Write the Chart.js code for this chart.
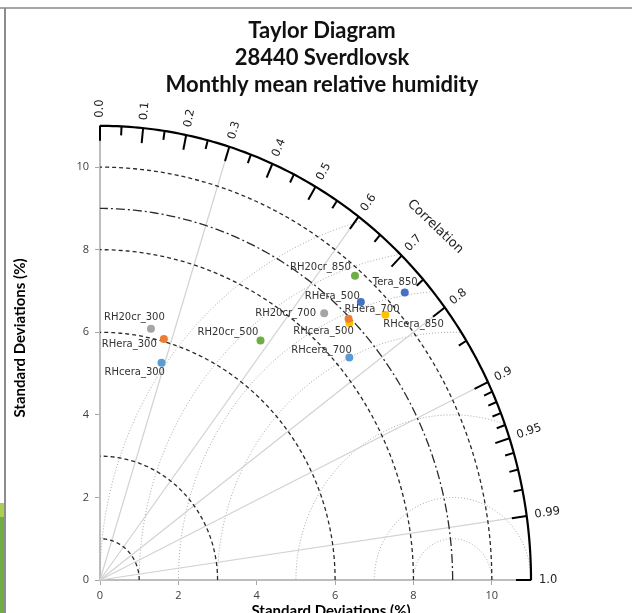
<!DOCTYPE html>
<html lang="en">
<head>
  <meta charset="UTF-8">
  <title>Taylor Diagram - 28440 Sverdlovsk</title>
  <script src="https://cdn.jsdelivr.net/npm/chart.js"></script>
  <style>
    html, body { margin: 0; padding: 0; background: #fff; overflow: hidden; }
    #wrap { position: absolute; left: 0; top: 0; width: 632px; height: 625px; }
    #frameTop { position: absolute; left: 0; top: 7px; width: 632px; height: 2px; background: #a6a6a6; }
    #frameLeft { position: absolute; left: 4px; top: 8px; width: 2px; height: 605px; background: #8c8c8c; }
    #greenBar { position: absolute; left: 0; top: 503px; width: 4px; height: 110px; background: #70ad47; border-top: 14px solid #a9d04f; box-sizing: border-box; }
  </style>
</head>
<body>
  <div id="wrap"><canvas id="taylor" width="632" height="625"></canvas></div>
  <div id="frameTop"></div>
  <div id="frameLeft"></div>
  <div id="greenBar"></div>

  <script>
    // data
    const names = ['RH20cr_300', 'RHera_300', 'RHcera_300', 'RH20cr_500', 'RHera_500', 'RHcera_500',
                   'RH20cr_700', 'RHera_700', 'RHcera_700', 'RH20cr_850', 'Tera_850', 'RHcera_850'];
    const stdDev      = [6.22, 6.06, 5.49, 7.10, 9.47, 8.90, 8.63, 8.96, 8.34, 9.83, 10.44, 9.71];
    const correlation = [0.209, 0.269, 0.286, 0.577, 0.703, 0.715, 0.663, 0.708, 0.763, 0.662, 0.745, 0.750];

    // diagram grid
    const maxStd = 11;
    const refStd = 9;
    const stdArcs = [1, 3, 6, 8, 10];
    const rmsArcs = [1, 2, 4, 6, 7, 8, 9];
    const corrLines = [0.3, 0.6, 0.8, 0.9, 0.99];
    const corrMajor = [0, 0.1, 0.2, 0.3, 0.4, 0.5, 0.6, 0.7, 0.8, 0.9, 0.95, 0.99, 1.0];
    const corrMajorText = ['0.0', '0.1', '0.2', '0.3', '0.4', '0.5', '0.6', '0.7', '0.8', '0.9', '0.95', '0.99', '1.0'];
    const corrMinor = [0.05, 0.15, 0.25, 0.35, 0.45, 0.55, 0.65, 0.75, 0.85, 0.91, 0.92, 0.93, 0.94, 0.96, 0.97, 0.98];
    const axisTicks = [0, 2, 4, 6, 8, 10];
    const axisTitle = 'Standard Deviations (%)';

    const pointColors = ['#a5a5a5', '#ed7d31', '#5b9bd5', '#70ad47', '#4472c4', '#ffc000',
                         '#a5a5a5', '#ed7d31', '#5b9bd5', '#70ad47', '#4472c4', '#ffc000'];
    // label placement relative to each point (px)
    const labelShift = [[-47, -11], [-62, 5], [-57, 10], [-63, -8], [-56, -6], [-56, 8],
                        [-69, 0], [-4, -9], [-58, -7], [-65, -8], [-32, -10], [-2, 10]];

    const points = stdDev.map((s, i) => ({
      x: s * correlation[i],
      y: s * Math.sqrt(1 - correlation[i] * correlation[i])
    }));

    function arcPath(ctx, sx, sy, cx, r, from, to) {
      const n = 160;
      ctx.beginPath();
      for (let i = 0; i <= n; i++) {
        const t = from + (to - from) * i / n;
        const px = sx.getPixelForValue(cx + r * Math.cos(t));
        const py = sy.getPixelForValue(r * Math.sin(t));
        if (i === 0) ctx.moveTo(px, py); else ctx.lineTo(px, py);
      }
    }

    const taylorGrid = {
      id: 'taylorGrid',
      beforeDatasetsDraw(chart) {
        const { ctx, scales: { x, y } } = chart;
        const ox = x.getPixelForValue(0), oy = y.getPixelForValue(0);
        ctx.save();

        // centred RMS arcs, clipped to the quadrant
        ctx.save();
        arcPath(ctx, x, y, 0, maxStd, 0, Math.PI / 2);
        ctx.lineTo(ox, oy);
        ctx.closePath();
        ctx.clip();
        ctx.strokeStyle = '#a8a8a8';
        ctx.lineWidth = 1;
        ctx.setLineDash([1, 2]);
        rmsArcs.forEach(r => { arcPath(ctx, x, y, refStd, r, 0, Math.PI); ctx.stroke(); });
        ctx.restore();

        // correlation rays
        ctx.strokeStyle = '#d2d2d2';
        ctx.lineWidth = 1.2;
        ctx.setLineDash([]);
        corrLines.forEach(c => {
          const s = Math.sqrt(1 - c * c);
          ctx.beginPath();
          ctx.moveTo(ox, oy);
          ctx.lineTo(x.getPixelForValue(maxStd * c), y.getPixelForValue(maxStd * s));
          ctx.stroke();
        });

        // standard deviation arcs
        ctx.strokeStyle = '#2b2b2b';
        ctx.lineWidth = 1.3;
        ctx.setLineDash([4, 3]);
        stdArcs.forEach(r => { arcPath(ctx, x, y, 0, r, 0, Math.PI / 2); ctx.stroke(); });
        ctx.setLineDash([9, 3, 2, 3]);
        arcPath(ctx, x, y, 0, refStd, 0, Math.PI / 2);
        ctx.stroke();

        // outer correlation axis
        ctx.setLineDash([]);
        ctx.strokeStyle = '#000';
        ctx.lineWidth = 2.2;
        arcPath(ctx, x, y, 0, maxStd, 0, Math.PI / 2);
        ctx.stroke();

        const edge = c => {
          const s = Math.sqrt(1 - c * c);
          const px = x.getPixelForValue(maxStd * c), py = y.getPixelForValue(maxStd * s);
          const len = Math.hypot(px - ox, py - oy);
          return { px, py, ux: (px - ox) / len, uy: (py - oy) / len };
        };
        const tick = (c, len) => {
          const e = edge(c);
          ctx.beginPath();
          ctx.moveTo(e.px, e.py);
          ctx.lineTo(e.px - e.ux * len, e.py - e.uy * len);
          ctx.stroke();
        };
        ctx.lineWidth = 2;
        corrMajor.forEach(c => tick(c, 15));
        corrMinor.forEach(c => tick(c, 9));

        // correlation labels
        ctx.fillStyle = '#222';
        ctx.font = '11.5px "DejaVu Sans"';
        ctx.textAlign = 'left';
        ctx.textBaseline = 'middle';
        corrMajor.forEach((c, i) => {
          const e = edge(c);
          ctx.save();
          ctx.translate(e.px + e.ux * 8, e.py + e.uy * 8);
          ctx.rotate(Math.atan2(e.uy, e.ux));
          ctx.fillText(corrMajorText[i], 0, 0);
          ctx.restore();
        });

        ctx.font = '13px "DejaVu Sans"';
        ctx.textAlign = 'center';
        const r45 = 12.1 * Math.SQRT1_2;
        const cxp = x.getPixelForValue(r45), cyp = y.getPixelForValue(r45);
        ctx.save();
        ctx.translate(cxp, cyp);
        ctx.rotate(Math.atan2(cxp - ox, oy - cyp));
        ctx.fillText('Correlation', 0, 0);
        ctx.restore();

        // axis titles
        ctx.font = 'bold 15px Lato';
        ctx.fillStyle = '#000';
        ctx.fillText(axisTitle, 331, 611);
        ctx.save();
        ctx.translate(20, 338);
        ctx.rotate(-Math.PI / 2);
        ctx.fillText(axisTitle, 0, 0);
        ctx.restore();

        ctx.restore();
      }
    };

    const pointLabels = {
      id: 'pointLabels',
      afterDatasetsDraw(chart) {
        const { ctx } = chart;
        const meta = chart.getDatasetMeta(0);
        ctx.save();
        ctx.font = '10px "DejaVu Sans"';
        ctx.fillStyle = '#333';
        ctx.textAlign = 'left';
        ctx.textBaseline = 'middle';
        meta.data.forEach((pt, i) => {
          ctx.fillText(names[i], pt.x + labelShift[i][0], pt.y + labelShift[i][1]);
        });
        ctx.restore();
      }
    };

    const tickFont = { family: 'Open Sans', size: 11 };

    new Chart(document.getElementById('taylor'), {
      type: 'scatter',
      data: {
        datasets: [{
          data: points,
          backgroundColor: pointColors,
          borderWidth: 0,
          pointRadius: 4
        }]
      },
      options: {
        responsive: false,
        animation: false,
        devicePixelRatio: 1,
        layout: { padding: { left: 12, right: 0, top: 0, bottom: 0 } },
        plugins: {
          legend: { display: false },
          tooltip: { enabled: false },
          title: {
            display: true,
            text: ['Taylor Diagram', '28440 Sverdlovsk', 'Monthly mean relative humidity'],
            color: '#111',
            font: { family: 'Lato', size: 22, weight: 'bold', lineHeight: 1.24 },
            padding: { top: 17, bottom: 27 }
          }
        },
        scales: {
          x: {
            type: 'linear',
            min: 0,
            max: maxStd,
            afterBuildTicks: s => { s.ticks = axisTicks.map(v => ({ value: v })); },
            afterFit: s => { s.height = 45; },
            grid: { drawOnChartArea: false, drawTicks: true, tickLength: 5, tickColor: '#a6a6a6' },
            border: { color: '#bdbdbd', width: 2 },
            ticks: { color: '#404040', font: tickFont, padding: 4, maxRotation: 0 }
          },
          y: {
            type: 'linear',
            min: 0,
            max: maxStd,
            afterBuildTicks: s => { s.ticks = axisTicks.map(v => ({ value: v })); },
            afterFit: s => { s.width = 88; },
            grid: { drawOnChartArea: false, drawTicks: true, tickLength: 5, tickColor: '#a6a6a6' },
            border: { color: '#bdbdbd', width: 2 },
            ticks: { color: '#404040', font: tickFont, padding: 6 }
          },
          // empty right-hand margin so the title centres on the whole figure
          yRight: {
            type: 'linear',
            position: 'right',
            min: 0,
            max: maxStd,
            afterFit: s => { s.width = 101; },
            grid: { display: false },
            border: { display: false },
            ticks: { display: false }
          }
        }
      },
      plugins: [taylorGrid, pointLabels]
    });
  </script>
</body>
</html>
